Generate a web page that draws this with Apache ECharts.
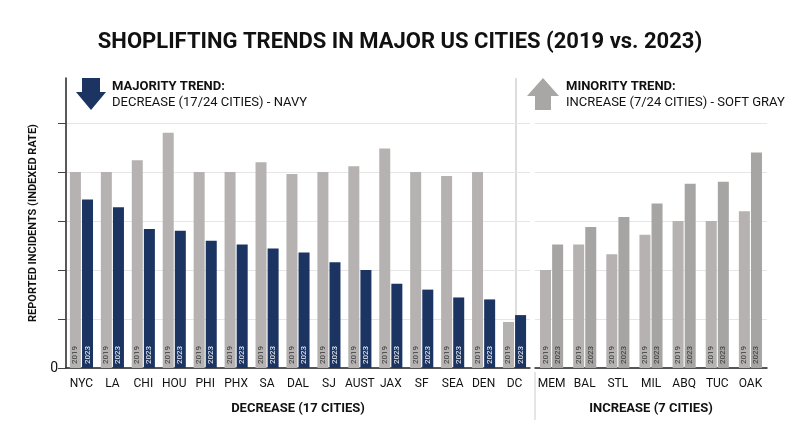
<!DOCTYPE html>
<html lang="en">
<head>
<meta charset="UTF-8" />
<title>Shoplifting trends</title>
</head>
<body>
<style>
* { margin: 0; padding: 0; }
#chartEl { width: 800px; height: 447px; background: #fff; }
</style>
<div id="chartEl"></div>
<script src="https://cdn.jsdelivr.net/npm/echarts@6/dist/echarts.min.js"></script>
<script>
// decrease group
const decCities = ['NYC','LA','CHI','HOU','PHI','PHX','SA','DAL','SJ','AUST','JAX','SF','SEA','DEN','DC'];
const dec2019 = [100,100,106,120,100,100,105,99,100,103,112,100,98,100,23.5];
const dec2023 = [86,82,71,70,65,63,61,59,54,50,43,40,36,35,27];
// increase group
const incCities = ['MEM','BAL','STL','MIL','ABQ','TUC','OAK'];
const inc2019 = [50,63,58,68,75,75,80];
const inc2023 = [63,72,77,84,94,95,110];

const FONT = 'Roboto, "DejaVu Sans", sans-serif';
const GRAY19 = '#b5b2b1';
const GRAY23 = '#a7a5a3';
const NAVY = '#1b3461';

function yearLabel(text, color) {
  return {
    show: true, position: 'insideBottom', rotate: 90, align: 'left', verticalAlign: 'middle',
    distance: 4, formatter: text, color: color, fontFamily: FONT, fontSize: 8
  };
}

function yAxisFor(idx, show) {
  return {
    type: 'value', gridIndex: idx, min: 0, max: 148, interval: 25,
    axisLine: { show: show, lineStyle: { color: '#222', width: 1.5 } },
    axisTick: { show: show, length: 8, lineStyle: { color: '#444' } },
    axisLabel: {
      show: show, showMaxLabel: false, color: '#111', fontFamily: FONT, fontSize: 14,
      formatter: v => (v === 0 ? '0' : '')
    },
    splitLine: { show: true, showMaxLine: false, lineStyle: { color: '#e6e6e6' } },
    name: show ? 'REPORTED INCIDENTS (INDEXED RATE)' : '',
    nameLocation: 'middle', nameGap: 24, nameRotate: 90,
    nameTextStyle: { color: '#111', fontFamily: FONT, fontWeight: 'bold', fontSize: 11 }
  };
}

function xAxisFor(idx, cats, name) {
  return {
    type: 'category', gridIndex: idx, data: cats,
    axisLine: { lineStyle: { color: '#222', width: 1.5 } },
    axisTick: { show: false },
    axisLabel: { color: '#111', fontFamily: FONT, fontSize: 12, margin: 10, interval: 0 },
    name: name, nameLocation: 'middle', nameGap: 34,
    nameTextStyle: { color: '#111', fontFamily: FONT, fontWeight: 'bold', fontSize: 13 }
  };
}

const chart = echarts.init(document.getElementById('chartEl'));
chart.setOption({
  animation: false,
  title: {
    text: 'SHOPLIFTING TRENDS IN MAJOR US CITIES (2019 vs. 2023)',
    left: 'center', top: 26,
    textStyle: { fontFamily: FONT, fontWeight: 'bold', fontSize: 22, color: '#111' }
  },
  grid: [
    { left: 66, right: 270, top: 78, bottom: 79 },
    { left: 535, right: 33, top: 78, bottom: 79 }
  ],
  xAxis: [
    xAxisFor(0, decCities, 'DECREASE (17 CITIES)'),
    xAxisFor(1, incCities, 'INCREASE (7 CITIES)')
  ],
  yAxis: [yAxisFor(0, true), yAxisFor(1, false)],
  series: [
    { type: 'bar', xAxisIndex: 0, yAxisIndex: 0, data: dec2019, barWidth: 11, barGap: '10%',
      itemStyle: { color: GRAY19 }, label: yearLabel('2019', '#333') },
    { type: 'bar', xAxisIndex: 0, yAxisIndex: 0, data: dec2023, barWidth: 11, barGap: '10%',
      itemStyle: { color: NAVY }, label: yearLabel('2023', '#fff') },
    { type: 'bar', xAxisIndex: 1, yAxisIndex: 1, data: inc2019, barWidth: 11, barGap: '10%',
      itemStyle: { color: GRAY19 }, label: yearLabel('2019', '#333') },
    { type: 'bar', xAxisIndex: 1, yAxisIndex: 1, data: inc2023, barWidth: 11, barGap: '10%',
      itemStyle: { color: GRAY23 }, label: yearLabel('2023', '#333') }
  ],
  graphic: [
    // separator lines
    { type: 'line', shape: { x1: 516, y1: 78, x2: 516, y2: 368 }, style: { stroke: '#bbb', lineWidth: 1 } },
    { type: 'line', shape: { x1: 535, y1: 372, x2: 535, y2: 420 }, style: { stroke: '#ccc', lineWidth: 1 } },
    // down arrow
    { type: 'polygon', shape: { points: [[82,78],[100,78],[100,92],[106,92],[91,110],[76,92],[82,92]] },
      style: { fill: NAVY } },
    { type: 'text', left: 112, top: 80, style: { text: 'MAJORITY TREND:', fontFamily: FONT, fontWeight: 'bold', fontSize: 13, fill: '#111' } },
    { type: 'text', left: 112, top: 96, style: { text: 'DECREASE (17/24 CITIES) - NAVY', fontFamily: FONT, fontSize: 13, fill: '#111' } },
    // up arrow
    { type: 'polygon', shape: { points: [[527,96],[543,78],[559,96],[551,96],[551,110],[535,110],[535,96]] },
      style: { fill: '#a9a7a5' } },
    { type: 'text', left: 566, top: 80, style: { text: 'MINORITY TREND:', fontFamily: FONT, fontWeight: 'bold', fontSize: 13, fill: '#111' } },
    { type: 'text', left: 566, top: 96, style: { text: 'INCREASE (7/24 CITIES) - SOFT GRAY', fontFamily: FONT, fontSize: 13, fill: '#111' } }
  ]
});
</script>
</body>
</html>
